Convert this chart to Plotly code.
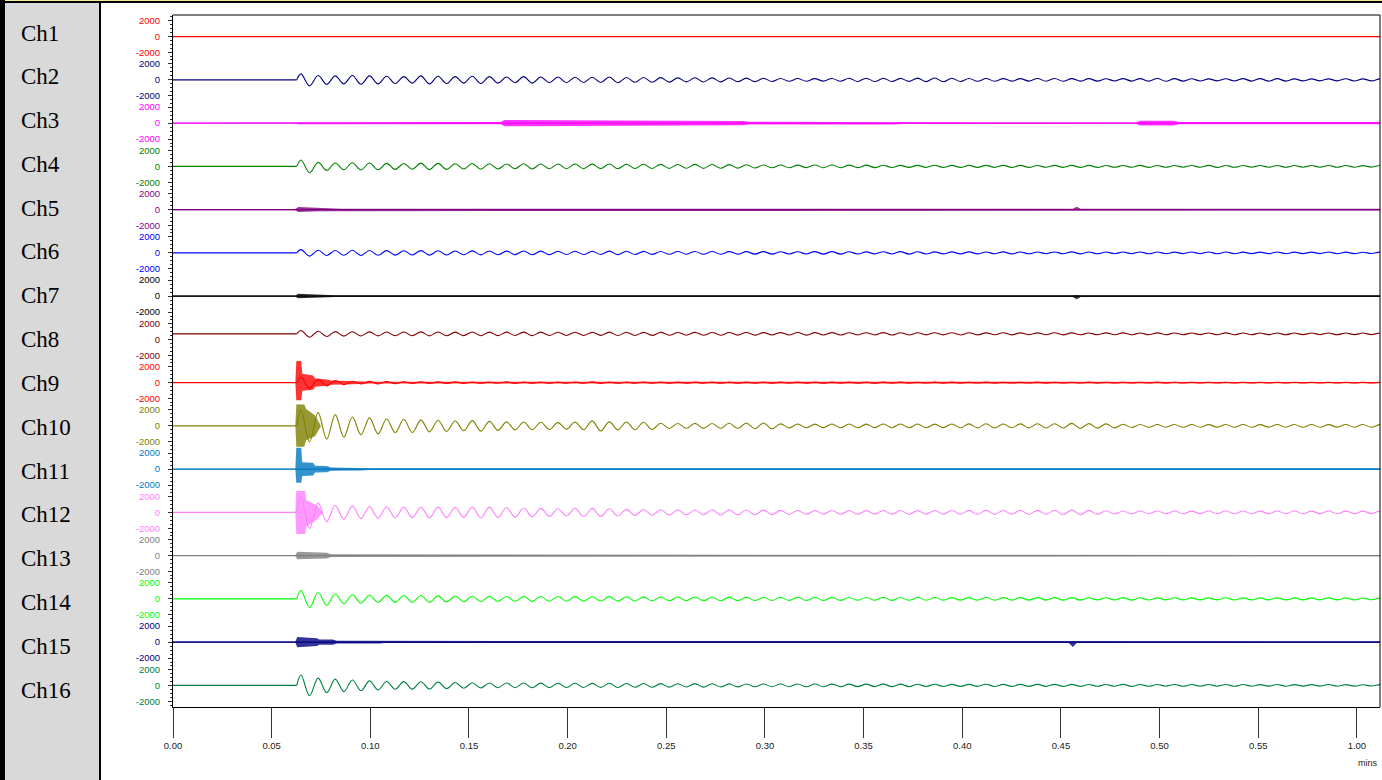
import plotly.graph_objects as go

# ---------------- data ----------------
CHANNELS = [f"Ch{i}" for i in range(1, 17)]
COLORS = ["#FF0000", "#000080", "#FF00FF", "#008000", "#800080", "#0000FF", "#000000", "#800000",
          "#FF0000", "#808000", "#0078C0", "#FF80FF", "#808080", "#00FF00", "#000080", "#008040"]
Y_TICK_VALUES = [2000, 0, -2000]
Y_TICK_LABELS = ["2000", "0", "-2000"]
X_TICK_SECONDS = [0, 5, 10, 15, 20, 25, 30, 35, 40, 45, 50, 55, 60]
X_TICK_LABELS = ["0.00", "0.05", "0.10", "0.15", "0.20", "0.25", "0.30", "0.35",
                 "0.40", "0.45", "0.50", "0.55", "1.00"]
X_END_S = 61.17          # end of record (s)
ONSET_S = 6.27           # event onset (s)
CYCLE_S = 0.868          # oscillation period (s)
DC_LEVEL = {8: 690}      # channel DC offsets

# per-cycle oscillation amplitudes (one value per cycle, + then - half cycle)
AMP_CH2 = [750, 550, 500, 550, 500, 450, 400, 500, 450, 400, 450, 400, 350, 400, 350, 350,
           330, 320, 350, 300, 300, 280, 250, 260, 250, 230, 220, 200, 180, 170, 160, 180,
           200, 210, 200, 190, 220, 240, 200, 180, 170, 160, 150, 170, 180, 160, 150, 140,
           150, 160, 170, 150, 140, 130, 140, 150, 160, 150, 130, 120, 130, 140, 130, 120]
AMP_CH4 = [800, 500, 420, 450, 420, 380, 350, 400, 380, 330, 350, 330, 300, 330, 300, 290,
           290, 280, 300, 270, 260, 250, 240, 250, 240, 220, 200, 180, 170, 160, 170, 170,
           160, 150, 140, 130, 130, 140, 130, 120, 120, 130, 120, 110, 120, 130, 120, 110,
           110, 120, 110, 100, 110, 120, 110, 100, 100, 110, 100, 100, 110, 100, 90, 100]
AMP_CH6 = [400, 330, 300, 320, 300, 280, 260, 280, 260, 240, 250, 240, 220, 230, 220, 210,
           210, 200, 220, 200, 190, 180, 170, 180, 170, 160, 150, 150, 140, 140, 150, 150,
           140, 130, 140, 150, 140, 130, 120, 120, 110, 120, 110, 100, 110, 120, 110, 100,
           100, 110, 100, 90, 100, 110, 100, 90, 90, 100, 90, 90, 100, 90, 80, 90]
AMP_CH8 = [420, 330, 280, 260, 250, 240, 230, 250, 240, 220, 230, 220, 210, 220, 210, 200,
           200, 190, 210, 200, 190, 180, 170, 180, 170, 160, 160, 150, 150, 160, 150, 150,
           140, 140, 150, 140, 130, 130, 140, 130, 120, 130, 120, 120, 130, 120, 110, 120,
           120, 110, 120, 110, 100, 110, 120, 110, 100, 110, 100, 100, 110, 100, 100, 100]
AMP_CH9 = [700, 400, 250, 180, 150, 120, 100, 100, 90, 90, 80, 80, 90, 80, 80, 70,
           80, 90, 80, 70, 80, 70, 60, 70, 80, 70, 60, 70, 60, 60, 70, 60,
           60, 70, 60, 60, 50, 60, 60, 50, 60, 50, 50, 60, 50, 50, 60, 50,
           50, 50, 60, 50, 50, 40, 50, 50, 40, 50, 50, 40, 50, 40, 40, 50]
AMP_CH10 = [2000, 1650, 1400, 1100, 1000, 850, 830, 750, 700, 600, 650, 560, 500, 480, 450, 400,
            480, 620, 500, 480, 450, 320, 300, 310, 300, 320, 350, 360, 250, 230, 220, 240,
            230, 220, 230, 240, 230, 220, 240, 250, 260, 240, 250, 260, 270, 310, 280, 250,
            200, 180, 170, 180, 170, 160, 180, 170, 160, 170, 180, 170, 160, 170, 180, 160]
AMP_CH12 = [2000, 1150, 850, 780, 730, 700, 650, 680, 650, 620, 680, 650, 600, 550, 500, 450,
            520, 500, 450, 380, 350, 320, 310, 300, 330, 310, 300, 280, 250, 240, 230, 240,
            230, 220, 240, 230, 220, 230, 240, 250, 250, 240, 260, 250, 260, 280, 250, 200,
            180, 170, 180, 170, 160, 170, 180, 170, 160, 170, 170, 160, 170, 160, 150, 160]
AMP_CH14 = [1080, 790, 600, 520, 450, 440, 430, 420, 380, 350, 320, 310, 300, 310, 300, 290,
            280, 270, 280, 260, 250, 240, 230, 240, 230, 220, 210, 200, 200, 210, 200, 190,
            180, 180, 190, 180, 170, 170, 160, 160, 170, 160, 150, 150, 160, 150, 140, 140,
            150, 140, 130, 140, 130, 130, 140, 130, 120, 130, 120, 120, 130, 120, 110, 120]
AMP_CH16 = [1290, 900, 780, 670, 560, 480, 470, 460, 400, 360, 330, 300, 290, 300, 280, 270,
            260, 250, 260, 240, 230, 220, 210, 220, 200, 190, 180, 170, 170, 180, 170, 160,
            150, 150, 160, 150, 140, 140, 130, 130, 140, 130, 120, 120, 130, 120, 110, 110,
            120, 110, 100, 110, 100, 100, 110, 100, 90, 100, 90, 90, 100, 90, 80, 90]

# noise / burst envelopes: (time s, upper, lower)
BAND_CH1 = [(0, 50, -50), (61.2, 50, -50)]
BAND_CH3 = [(0, 60, -60), (6.2, 60, -60), (6.3, 150, -150), (16.6, 150, -150), (16.8, 380, -380),
            (20.5, 350, -350), (21.0, 280, -280), (28.9, 280, -280), (29.2, 180, -180),
            (36.5, 180, -180), (37.0, 110, -110), (41.9, 80, -80), (48.8, 80, -80),
            (49.0, 300, -300), (50.7, 300, -300), (51.0, 150, -150), (57.5, 180, -180),
            (58.0, 150, -150), (61.2, 150, -150)]
BAND_CH5 = [(0, 70, -70), (6.2, 70, -70), (6.35, 330, -300), (7.4, 220, -200), (8.5, 110, -110),
            (45.6, 110, -110), (45.8, 350, -150), (46.0, 110, -110), (61.2, 110, -110)]
BAND_CH7 = [(0, 70, -70), (6.2, 70, -70), (6.35, 300, -280), (7.3, 200, -200), (8.2, 100, -100),
            (45.6, 100, -100), (45.8, 150, -400), (46.0, 100, -100), (53.5, 100, -100),
            (54.0, 130, -130), (58.8, 130, -130), (59.2, 100, -100), (61.2, 100, -100)]
BAND_CH9 = [(0, 60, -60), (6.2, 60, -60), (6.25, 2700, -2200), (6.5, 2700, -2200), (6.55, 1100, -1000),
            (7.1, 900, -900), (7.2, 500, -500), (7.8, 400, -400), (8.0, 250, -250),
            (9.5, 180, -180), (10.0, 110, -110), (61.2, 90, -90)]
BAND_CH10 = [(6.2, 0, 0), (6.25, 2700, -2600), (6.65, 2700, -2600), (6.75, 2100, -1800),
             (7.2, 1300, -1300), (7.5, 0, 0)]
BAND_CH11 = [(0, 60, -60), (6.2, 60, -60), (6.25, 2700, -1700), (6.5, 2700, -1700), (6.55, 850, -850),
             (7.1, 800, -800), (7.2, 420, -420), (7.8, 380, -380), (8.0, 200, -200),
             (9.5, 160, -160), (10.0, 110, -110), (61.2, 110, -110)]
BAND_CH12 = [(6.2, 0, 0), (6.25, 2700, -2700), (6.7, 2700, -2700), (6.75, 1500, -1800),
             (7.3, 900, -900), (7.6, 0, 0)]
BAND_CH13 = [(0, 50, -50), (6.2, 50, -50), (6.3, 480, -440), (7.8, 350, -350), (8.0, 160, -160),
             (9.4, 160, -160), (9.6, 70, -70), (61.2, 70, -70)]
BAND_CH15 = [(0, 90, -90), (6.2, 90, -90), (6.3, 625, -625), (7.3, 480, -480), (7.4, 320, -320),
             (8.1, 320, -320), (8.3, 160, -160), (10.5, 160, -160), (10.7, 110, -110),
             (45.4, 110, -110), (45.6, 110, -620), (45.8, 110, -110), (61.2, 110, -110)]

AMPS = {2: AMP_CH2, 4: AMP_CH4, 6: AMP_CH6, 8: AMP_CH8, 9: AMP_CH9, 10: AMP_CH10,
        12: AMP_CH12, 14: AMP_CH14, 16: AMP_CH16}
BANDS = {1: BAND_CH1, 3: BAND_CH3, 5: BAND_CH5, 7: BAND_CH7, 9: BAND_CH9, 10: BAND_CH10,
         11: BAND_CH11, 12: BAND_CH12, 13: BAND_CH13, 15: BAND_CH15}

# ---------------- layout constants ----------------
W, H = 1382, 780
ML, MR, MT, MB = 173, 2, 15, 73
PW, PH = W - ML - MR, H - MT - MB
N = len(CHANNELS)
FONT_SANS = "Liberation Sans, Arial, sans-serif"
FONT_SERIF = "Liberation Serif, Times New Roman, serif"


def px_x(px):
    return (px - ML) / PW


def px_y(py):
    return (H - MB - py) / PH


def rgba(hex_color, a):
    h = hex_color.lstrip("#")
    return f"rgba({int(h[0:2], 16)},{int(h[2:4], 16)},{int(h[4:6], 16)},{a})"


fig = go.Figure()

for i, name in enumerate(CHANNELS):
    ch = i + 1
    yref = "y" if ch == 1 else f"y{ch}"
    col = COLORS[i]
    dc = DC_LEVEL.get(ch, 0)

    band = BANDS.get(ch)
    if band:
        bx = [b[0] for b in band] + [b[0] for b in reversed(band)]
        by = [b[1] + dc for b in band] + [b[2] + dc for b in reversed(band)]
        fig.add_trace(go.Scatter(x=bx, y=by, mode="lines", fill="toself",
                                 fillcolor=rgba(col, 0.8), line=dict(width=0),
                                 xaxis="x", yaxis=yref, hoverinfo="skip", showlegend=False))

    amps = AMPS.get(ch)
    if amps:
        # quiet pre-event baseline
        fig.add_trace(go.Scatter(x=[0, ONSET_S], y=[dc, dc], mode="lines",
                                 line=dict(color=col, width=1.1),
                                 xaxis="x", yaxis=yref, hoverinfo="skip", showlegend=False))
        xs = [ONSET_S]
        ys = [dc]
        for k, a in enumerate(amps):
            xs += [ONSET_S + (k + 0.25) * CYCLE_S, ONSET_S + (k + 0.75) * CYCLE_S]
            ys += [dc + a, dc - a]
        fig.add_trace(go.Scatter(x=xs, y=ys, mode="lines",
                                 line=dict(color=col, width=1.1, shape="spline", smoothing=1.0),
                                 xaxis="x", yaxis=yref, hoverinfo="skip", showlegend=False))
    else:
        fig.add_trace(go.Scatter(x=[0, X_END_S], y=[dc, dc], mode="lines",
                                 line=dict(color=col, width=1.1),
                                 xaxis="x", yaxis=yref, hoverinfo="skip", showlegend=False))

layout = dict(
    width=W, height=H,
    margin=dict(l=ML, r=MR, t=MT, b=MB, pad=0),
    paper_bgcolor="white", plot_bgcolor="white",
    showlegend=False,
    xaxis=dict(domain=[0, 1], anchor=f"y{N}", range=[0, X_END_S],
               tickmode="array", tickvals=X_TICK_SECONDS, ticktext=X_TICK_LABELS,
               ticks="outside", ticklen=30, tickwidth=1, tickcolor="#333333",
               showline=True, linecolor="black", linewidth=1,
               showgrid=False, zeroline=False, fixedrange=True,
               tickfont=dict(family=FONT_SANS, size=9.5, color="#222222")),
)

for i in range(N):
    ch = i + 1
    key = "yaxis" if ch == 1 else f"yaxis{ch}"
    top = 1 - i / N
    bot = 1 - (i + 1) / N
    layout[key] = dict(domain=[bot, top], anchor="x", range=[-2700, 2700],
                       tickmode="array", tickvals=Y_TICK_VALUES, ticktext=Y_TICK_LABELS,
                       ticks="outside", ticklen=4, tickwidth=1, tickcolor="#333333",
                       ticklabelstandoff=6,
                       minor=dict(tickmode="linear", tick0=0, dtick=500, ticks="outside",
                                  ticklen=2, tickwidth=1, tickcolor="#333333"),
                       showline=True, linecolor="black", linewidth=1,
                       showgrid=False, zeroline=False, fixedrange=True,
                       tickfont=dict(family=FONT_SANS, size=9.5, color=COLORS[i]))

fig.update_layout(**layout)

shapes = [
    # left grey label panel
    dict(type="rect", xref="paper", yref="paper", x0=px_x(0), x1=px_x(100), y0=px_y(780), y1=px_y(0),
         fillcolor="#D9D9D9", line=dict(width=0), layer="below"),
    dict(type="rect", xref="paper", yref="paper", x0=px_x(0), x1=px_x(5), y0=px_y(780), y1=px_y(0),
         fillcolor="black", line=dict(width=0), layer="below"),
    dict(type="rect", xref="paper", yref="paper", x0=px_x(99), x1=px_x(101), y0=px_y(780), y1=px_y(1),
         fillcolor="black", line=dict(width=0), layer="below"),
    # top frame
    dict(type="rect", xref="paper", yref="paper", x0=px_x(0), x1=px_x(1382), y0=px_y(3), y1=px_y(1),
         fillcolor="black", line=dict(width=0), layer="below"),
    dict(type="rect", xref="paper", yref="paper", x0=px_x(5), x1=px_x(1382), y0=px_y(1), y1=px_y(0),
         fillcolor="#F5F08C", line=dict(width=0), layer="below"),
    # plot box top and right
    dict(type="line", xref="paper", yref="paper", x0=0, x1=1, y0=1, y1=1,
         line=dict(color="black", width=1)),
    dict(type="line", xref="paper", yref="paper", x0=1, x1=1, y0=0, y1=1,
         line=dict(color="black", width=1)),
]

annotations = []
for i, name in enumerate(CHANNELS):
    annotations.append(dict(text=name, xref="paper", yref="paper", x=px_x(19), y=px_y(33 + 43.8 * i),
                            xanchor="left", yanchor="middle", showarrow=False,
                            font=dict(family=FONT_SERIF, size=23, color="black")))
annotations.append(dict(text="mins", xref="paper", yref="paper", x=px_x(1368), y=px_y(763),
                        xanchor="center", yanchor="middle", showarrow=False,
                        font=dict(family=FONT_SANS, size=9, color="#222222")))

fig.update_layout(shapes=shapes, annotations=annotations)

fig.write_html("out.html")
